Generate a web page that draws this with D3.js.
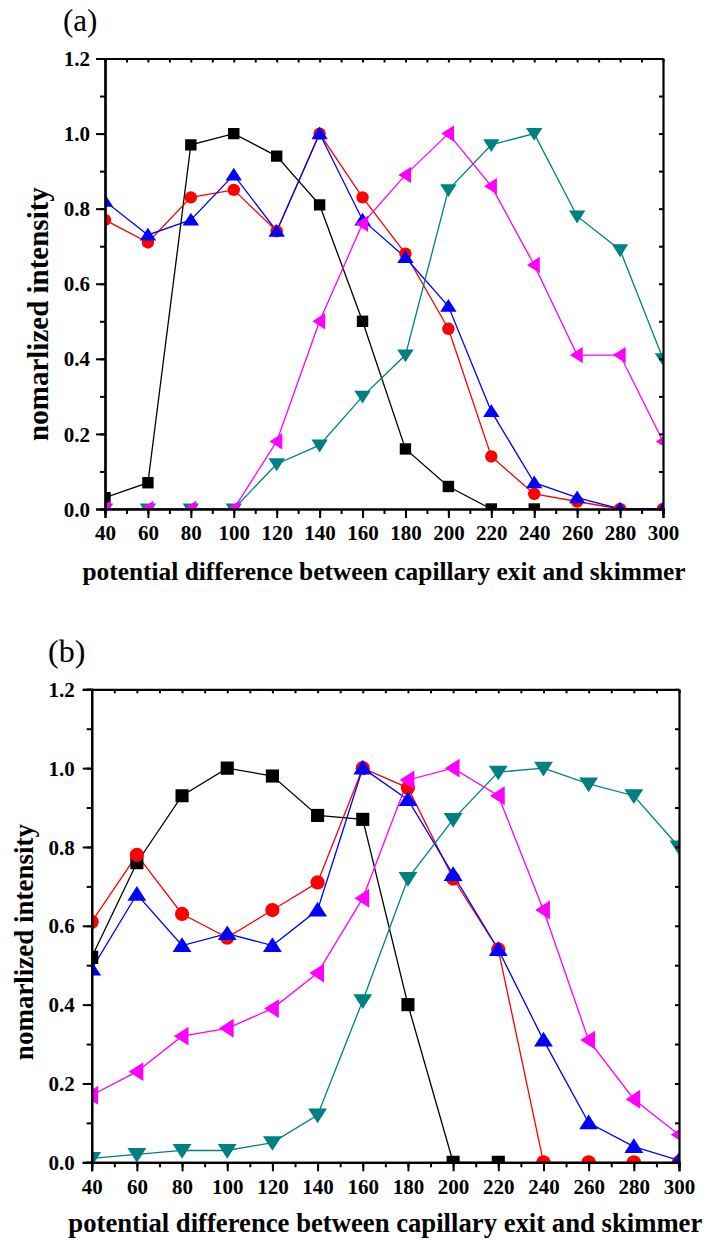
<!DOCTYPE html>
<html>
<head>
<meta charset="utf-8">
<script src="https://cdn.jsdelivr.net/npm/d3@7"></script>
<style>
  html, body { margin: 0; padding: 0; background: #fff; }
  svg { display: block; }
</style>
</head>
<body>
<svg id="chart" width="706" height="1245"></svg>
<script>
// ---- Data ----
const xValues = [40, 60, 80, 100, 120, 140, 160, 180, 200, 220, 240, 260, 280, 300];
const xTicks = [40, 60, 80, 100, 120, 140, 160, 180, 200, 220, 240, 260, 280, 300];
const yTicks = [0.0, 0.2, 0.4, 0.6, 0.8, 1.0, 1.2];

// panel (a)
const aBlack   = [0.03, 0.07, 0.97, 1.00, 0.94, 0.81, 0.50, 0.16, 0.06, 0.00, 0.00, null, null, null];
const aRed     = [0.77, 0.71, 0.83, 0.85, 0.74, 1.00, 0.83, 0.68, 0.48, 0.14, 0.04, 0.02, 0.00, 0.00];
const aBlue    = [0.82, 0.73, 0.77, 0.89, 0.74, 1.00, 0.77, 0.67, 0.54, 0.26, 0.07, 0.03, 0.00, 0.00];
const aMagenta = [0.00, 0.00, 0.00, 0.00, 0.18, 0.50, 0.76, 0.89, 1.00, 0.86, 0.65, 0.41, 0.41, 0.18];
const aTeal    = [0.00, 0.00, 0.00, 0.00, 0.12, 0.17, 0.30, 0.41, 0.85, 0.97, 1.00, 0.78, 0.69, 0.40];

// panel (b)
const bBlack   = [0.52, 0.76, 0.93, 1.00, 0.98, 0.88, 0.87, 0.40, 0.00, 0.00, null, null, null, null];
const bRed     = [0.61, 0.78, 0.63, 0.57, 0.64, 0.71, 1.00, 0.95, 0.72, 0.54, 0.00, 0.00, 0.00, 0.00];
const bBlue    = [0.49, 0.68, 0.55, 0.58, 0.55, 0.64, 1.00, 0.92, 0.73, 0.54, 0.31, 0.10, 0.04, 0.005];
const bMagenta = [0.17, 0.23, 0.32, 0.34, 0.39, 0.48, 0.67, 0.97, 1.00, 0.93, 0.64, 0.31, 0.16, 0.07];
const bTeal    = [0.01, 0.02, 0.03, 0.03, 0.05, 0.12, 0.41, 0.72, 0.87, 0.99, 1.00, 0.96, 0.93, 0.80];

const seriesStyles = [
  { color: "#000000", symbol: "square" },
  { color: "#ff0000", symbol: "circle" },
  { color: "#0000ff", symbol: "up" },
  { color: "#008080", symbol: "down" },
  { color: "#ff00ff", symbol: "left" }
];

const panels = [
  {
    label: "(a)", labelX: 63, labelY: 31, labelSize: 31,
    left: 105, right: 663, top: 58.5, bottom: 509,
    series: [aBlack, aRed, aBlue, aTeal, aMagenta],
    xTickBaseline: 31, xLabelBaseline: 580, xLabelSize: 25.4,
    yLabelX: 48, yLabelCenter: 314, yLabelSize: 29, yTickGap: 15,
    markerScale: 1.0
  },
  {
    label: "(b)", labelX: 48, labelY: 662, labelSize: 32,
    left: 91.7, right: 679, top: 689.3, bottom: 1162.3,
    series: [bBlack, bRed, bBlue, bTeal, bMagenta],
    xTickBaseline: 32, xLabelBaseline: 1232, xLabelSize: 26.7,
    yLabelX: 33, yLabelCenter: 942, yLabelSize: 27, yTickGap: 17,
    markerScale: 1.15
  }
];

const svg = d3.select("#chart");
const serif = "'Liberation Serif', 'Times New Roman', serif";

function markerPath(symbol, k) {
  switch (symbol) {
    case "square": { const s = 5.7 * k; return `M${-s},${-s}H${s}V${s}H${-s}Z`; }
    case "circle": { const r = 6.2 * k; return d3.symbol(d3.symbolCircle, Math.PI * r * r)(); }
    case "up":    { const w = 8.2 * k, a = 7.2 * k, b = 5.6 * k; return `M0,${-a}L${w},${b}L${-w},${b}Z`; }
    case "down":  { const w = 8.2 * k, a = 7.2 * k, b = 5.6 * k; return `M0,${a}L${w},${-b}L${-w},${-b}Z`; }
    case "left":  { const h = 8.2 * k, a = 7.2 * k, b = 5.6 * k; return `M${-a},0L${b},${-h}L${b},${h}Z`; }
  }
}

panels.forEach(p => {
  const g = svg.append("g");
  const x = d3.scaleLinear().domain([40, 300]).range([p.left, p.right]);
  const y = d3.scaleLinear().domain([0, 1.2]).range([p.bottom, p.top]);

  // panel label
  g.append("text").attr("x", p.labelX).attr("y", p.labelY)
    .attr("font-family", serif).attr("font-size", p.labelSize)
    .text(p.label);

  // clip to plot area
  const clipId = "clip" + p.label.replace(/[()]/g, "");
  svg.append("clipPath").attr("id", clipId)
    .append("rect").attr("x", p.left).attr("y", p.top)
    .attr("width", p.right - p.left).attr("height", p.bottom - p.top);

  const dataG = g.append("g").attr("clip-path", `url(#${clipId})`);
  const line = d3.line()
    .defined(d => d[1] !== null)
    .x(d => x(d[0])).y(d => y(d[1]));

  p.series.forEach((vals, i) => {
    const st = seriesStyles[i];
    const pts = xValues.map((xv, j) => [xv, vals[j]]);
    dataG.append("path").datum(pts)
      .attr("d", line)
      .attr("fill", "none").attr("stroke", st.color).attr("stroke-width", 1.3);
  });
  p.series.forEach((vals, i) => {
    const st = seriesStyles[i];
    const pts = xValues.map((xv, j) => [xv, vals[j]]).filter(d => d[1] !== null);
    dataG.selectAll(null).data(pts).enter().append("path")
      .attr("transform", d => `translate(${x(d[0])},${y(d[1])})`)
      .attr("d", markerPath(st.symbol, p.markerScale))
      .attr("fill", st.color);
  });

  // axes
  const xMinor = d3.range(40, 301, 10);
  const yMinor = d3.range(0, 1.2001, 0.1);

  const bottomAxis = d3.axisBottom(x).tickValues(xMinor).tickSize(5).tickFormat("");
  const bottomMajor = d3.axisBottom(x).tickValues(xTicks).tickSize(9).tickFormat(d3.format("d")).tickPadding(5);
  const leftAxis = d3.axisLeft(y).tickValues(yMinor).tickSize(5).tickFormat("");
  const leftMajor = d3.axisLeft(y).tickValues(yTicks).tickSize(9).tickFormat(d3.format(".1f"));
  const topAxis = d3.axisTop(x).tickValues(xMinor).tickSizeInner(-4).tickSizeOuter(0).tickFormat("");
  const rightAxis = d3.axisRight(y).tickValues(yMinor).tickSizeInner(-4).tickSizeOuter(0).tickFormat("");

  function styleAxis(sel) {
    sel.select(".domain").attr("stroke", "#000").attr("stroke-width", 2.2);
    sel.selectAll(".tick line").attr("stroke", "#000").attr("stroke-width", 2);
  }

  const gb = g.append("g").attr("transform", `translate(0,${p.bottom})`).call(bottomAxis);
  styleAxis(gb);
  const gbm = g.append("g").attr("transform", `translate(0,${p.bottom})`).call(bottomMajor);
  styleAxis(gbm);
  gbm.attr("font-family", serif).attr("font-size", 21);
  gbm.selectAll(".tick text").attr("font-family", serif).attr("font-weight", "bold")
    .attr("font-size", 21).attr("fill", "#000").attr("dy", null).attr("y", p.xTickBaseline);

  const gl = g.append("g").attr("transform", `translate(${p.left},0)`).call(leftAxis);
  styleAxis(gl);
  const glm = g.append("g").attr("transform", `translate(${p.left},0)`).call(leftMajor);
  styleAxis(glm);
  glm.attr("font-family", serif).attr("font-size", 21);
  glm.selectAll(".tick text").attr("font-family", serif).attr("font-weight", "bold")
    .attr("font-size", 21).attr("fill", "#000").attr("x", -p.yTickGap).attr("dy", "0.34em");

  const gt = g.append("g").attr("transform", `translate(0,${p.top})`).call(topAxis);
  styleAxis(gt);
  const gr = g.append("g").attr("transform", `translate(${p.right},0)`).call(rightAxis);
  styleAxis(gr);

  // axis titles
  g.append("text")
    .attr("x", (p.left + p.right) / 2).attr("y", p.xLabelBaseline)
    .attr("text-anchor", "middle")
    .attr("font-family", serif).attr("font-weight", "bold").attr("font-size", p.xLabelSize)
    .text("potential difference between capillary exit and skimmer");

  g.append("text")
    .attr("transform", `translate(${p.yLabelX},${p.yLabelCenter}) rotate(-90)`)
    .attr("text-anchor", "middle")
    .attr("font-family", serif).attr("font-weight", "bold").attr("font-size", p.yLabelSize)
    .text("nomarlized intensity");
});
</script>
</body>
</html>
